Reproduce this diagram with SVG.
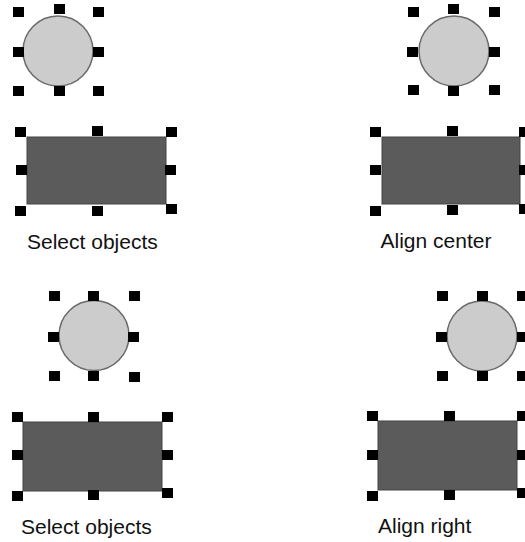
<svg xmlns="http://www.w3.org/2000/svg" width="525" height="542" viewBox="0 0 525 542">
<style>
.c{fill:#cccccc;stroke:#6a6a6a;stroke-width:1.5}
.r{fill:#5b5b5b;stroke:#454545;stroke-width:1}
.h{fill:#000}
.t{font-family:"Liberation Sans",Arial,sans-serif;font-size:21px;fill:#111}
</style>
<rect width="525" height="542" fill="#fff"/>
<g id="connectors"/>
<g id="panel1">
<g id="p1-circle">
<circle class="c" cx="58" cy="51" r="35"/>
<rect class="h" x="13" y="7" width="11" height="10"/><rect class="h" x="54" y="4" width="11" height="10"/><rect class="h" x="93" y="7" width="11" height="10"/>
<rect class="h" x="13" y="47" width="11" height="10"/><rect class="h" x="93" y="47" width="11" height="10"/>
<rect class="h" x="13" y="86" width="11" height="10"/><rect class="h" x="54" y="86" width="11" height="10"/><rect class="h" x="93" y="86" width="11" height="10"/>
</g>
<g id="p1-rect">
<rect class="r" x="27" y="137" width="139" height="67"/>
<rect class="h" x="15" y="127" width="11" height="10"/><rect class="h" x="92" y="126" width="11" height="10"/><rect class="h" x="166" y="127" width="11" height="10"/>
<rect class="h" x="16" y="165" width="11" height="10"/><rect class="h" x="165" y="165" width="11" height="10"/>
<rect class="h" x="15" y="206" width="11" height="10"/><rect class="h" x="92" y="206" width="11" height="10"/><rect class="h" x="166" y="204" width="11" height="10"/>
</g>
<text id="p1-label" class="t" x="27" y="249">Select objects</text>
</g>
<g id="panel2">
<g id="p2-circle">
<circle class="c" cx="454" cy="51" r="35"/>
<rect class="h" x="408" y="7" width="11" height="10"/><rect class="h" x="448" y="4" width="11" height="10"/><rect class="h" x="489" y="7" width="11" height="10"/>
<rect class="h" x="407" y="47" width="11" height="10"/><rect class="h" x="489" y="47" width="11" height="10"/>
<rect class="h" x="408" y="85" width="11" height="10"/><rect class="h" x="448" y="86" width="11" height="10"/><rect class="h" x="489" y="85" width="11" height="10"/>
</g>
<g id="p2-rect">
<rect class="r" x="382" y="137" width="138" height="67"/>
<rect class="h" x="370" y="127" width="11" height="10"/><rect class="h" x="447" y="126" width="11" height="10"/><rect class="h" x="519" y="127" width="11" height="10"/>
<rect class="h" x="370" y="165" width="11" height="10"/><rect class="h" x="519" y="165" width="11" height="10"/>
<rect class="h" x="370" y="206" width="11" height="10"/><rect class="h" x="447" y="205" width="11" height="10"/><rect class="h" x="519" y="204" width="11" height="10"/>
</g>
<text id="p2-label" class="t" x="380.5" y="248">Align center</text>
</g>
<g id="panel3">
<g id="p3-circle">
<circle class="c" cx="94" cy="335.5" r="35"/>
<rect class="h" x="49" y="291" width="11" height="10"/><rect class="h" x="88" y="291" width="11" height="10"/><rect class="h" x="129" y="291" width="11" height="10"/>
<rect class="h" x="48" y="332" width="11" height="10"/><rect class="h" x="128" y="332" width="11" height="10"/>
<rect class="h" x="49" y="371" width="11" height="10"/><rect class="h" x="88" y="371" width="11" height="10"/><rect class="h" x="129" y="372" width="11" height="10"/>
</g>
<g id="p3-rect">
<rect class="r" x="23" y="422" width="139" height="69"/>
<rect class="h" x="12" y="412" width="11" height="10"/><rect class="h" x="88" y="412" width="11" height="10"/><rect class="h" x="162" y="412" width="11" height="10"/>
<rect class="h" x="12" y="450" width="11" height="10"/><rect class="h" x="162" y="450" width="11" height="10"/>
<rect class="h" x="12" y="491" width="11" height="10"/><rect class="h" x="88" y="490" width="11" height="10"/><rect class="h" x="162" y="488" width="11" height="10"/>
</g>
<text id="p3-label" class="t" x="21" y="534">Select objects</text>
</g>
<g id="panel4">
<g id="p4-circle">
<circle class="c" cx="482" cy="336" r="35"/>
<rect class="h" x="437" y="291" width="11" height="10"/><rect class="h" x="477" y="291" width="11" height="10"/><rect class="h" x="517" y="291" width="11" height="10"/>
<rect class="h" x="436" y="332" width="11" height="10"/><rect class="h" x="517" y="332" width="11" height="10"/>
<rect class="h" x="437" y="371" width="11" height="10"/><rect class="h" x="477" y="371" width="11" height="10"/><rect class="h" x="517" y="371" width="11" height="10"/>
</g>
<g id="p4-rect">
<rect class="r" x="378" y="421" width="139" height="69"/>
<rect class="h" x="367" y="411" width="11" height="10"/><rect class="h" x="444" y="411" width="11" height="10"/><rect class="h" x="517" y="411" width="11" height="10"/>
<rect class="h" x="367" y="450" width="11" height="10"/><rect class="h" x="517" y="450" width="11" height="10"/>
<rect class="h" x="367" y="491" width="11" height="10"/><rect class="h" x="444" y="490" width="11" height="10"/><rect class="h" x="517" y="488" width="11" height="10"/>
</g>
<text id="p4-label" class="t" x="378" y="533">Align right</text>
</g>
</svg>
